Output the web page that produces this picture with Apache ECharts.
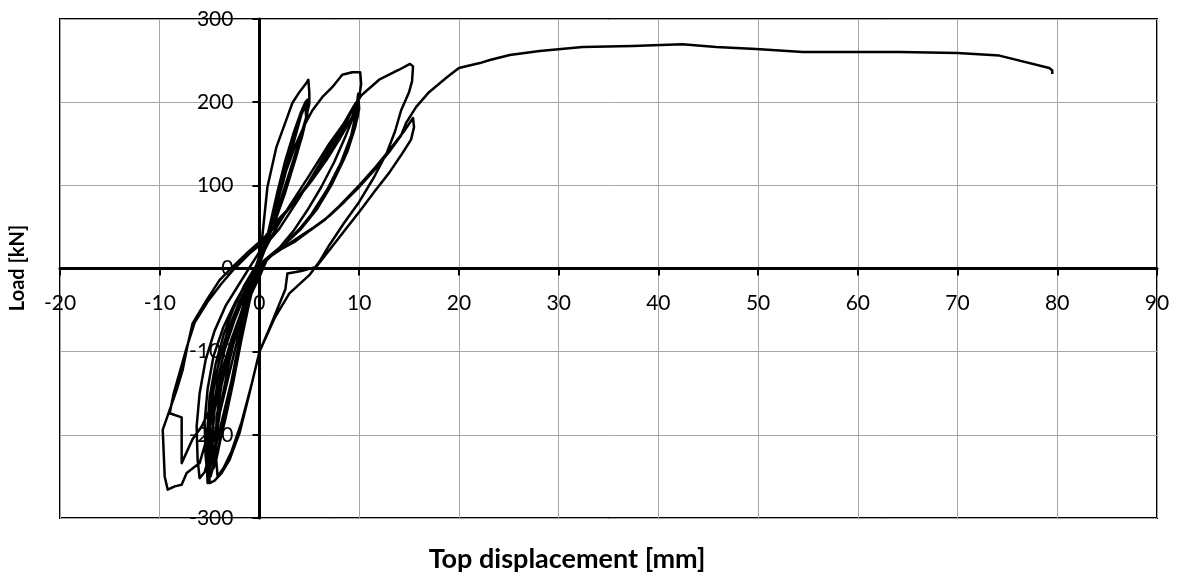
<!DOCTYPE html>
<html><head><meta charset="utf-8">
<script src="https://cdn.jsdelivr.net/npm/echarts@6/dist/echarts.min.js"></script>
<style>html,body{margin:0;padding:0;background:#fff}#c{width:1178px;height:579px}</style>
</head><body><div id="c"></div>
<script>
// Axis settings (tick values)
const xMin = -20, xMax = 90, xStep = 10;
const yMin = -300, yMax = 300, yStep = 100;
const xTitle = 'Top displacement [mm]';
const yTitle = 'Load [kN]';

// Hysteresis record: [top displacement mm, load kN]
const cycle1 = [[0,0],[0.3,40],[0.8,98],[1.7,146],[2.7,179],[3.3,199],[4.0,212],[4.7,223],[4.9,227],[5.0,212],[5.0,198],[4.6,178],[3.9,150],[3.0,115],[2.0,78],[1.0,45],[0.2,22],[-0.4,-5],[-1.0,-40],[-1.8,-85],[-2.6,-135],[-3.4,-180],[-4.2,-220],[-4.8,-245],[-5.2,-258],[-5.3,-230],[-5.2,-190],[-5.0,-155],[-4.4,-115],[-3.6,-80],[-2.6,-48],[-1.5,-20],[-0.5,0]];
const cycle2 = [[0.3,15],[1.0,50],[1.8,92],[2.6,130],[3.4,162],[4.1,186],[4.6,200],[4.8,203],[4.8,185],[4.4,165],[3.7,135],[2.8,100],[1.8,65],[0.8,35],[0,12],[-0.6,-15],[-1.3,-55],[-2.1,-100],[-2.9,-150],[-3.7,-195],[-4.4,-228],[-4.9,-250],[-5.0,-222],[-4.9,-180],[-4.6,-145],[-4.0,-108],[-3.1,-72],[-2.0,-40],[-1.0,-15],[0,5]];
const cycle3 = [[0.6,25],[1.4,62],[2.3,105],[3.1,140],[3.8,170],[4.3,190],[4.6,198],[4.7,182],[4.3,160],[3.5,128],[2.6,92],[1.6,58],[0.6,28],[-0.2,5],[-0.9,-25],[-1.6,-65],[-2.4,-110],[-3.2,-160],[-3.9,-205],[-4.3,-228],[-4.6,-240],[-4.7,-212],[-4.6,-172],[-4.2,-135],[-3.5,-98],[-2.5,-62],[-1.4,-30],[-0.4,-5]];
const cycle3b = [[0,10],[1.2,55],[2.4,105],[3.4,150],[4.2,185],[4.6,196],[4.7,180],[4.0,150],[3.0,112],[2.0,75],[1.0,40],[0,15],[-1.0,-20],[-2.0,-60],[-3.0,-110],[-3.8,-160],[-4.3,-200],[-4.7,-235],[-4.8,-215],[-4.5,-170],[-3.8,-125],[-2.8,-85],[-1.6,-45],[-0.5,-12]];
const cycle4 = [[0,5],[0.7,35],[1.6,75],[2.6,115],[3.6,148],[4.5,172],[5.3,190],[6.3,206],[7.3,218],[8.3,233],[9.3,236],[10.1,236],[10.2,222],[10.0,206],[9.5,185],[8.6,158],[7.5,128],[6.2,98],[4.8,70],[3.4,45],[2.0,25],[0.5,10],[-0.2,-5],[-1.0,-38],[-2.5,-86],[-3.6,-130],[-4.5,-170],[-5.3,-205],[-6.0,-234],[-7.3,-246],[-7.8,-260],[-8.5,-262],[-9.2,-266],[-9.5,-250],[-9.7,-194],[-9.0,-170],[-8.3,-146],[-7.7,-122],[-7.2,-92],[-6.7,-66],[-5.3,-38],[-4.0,-14],[-2.7,2],[-1.3,18],[0,32]];
const cycle5 = [[0.3,34],[1.8,58],[3.7,82],[5.2,105],[6.7,130],[8.0,155],[9.3,182],[9.8,200],[9.9,210],[10.0,192],[9.6,170],[8.8,140],[7.6,110],[6.2,80],[4.6,55],[3.0,35],[1.5,20],[0,5],[-1.0,-25],[-2.2,-70],[-3.4,-115],[-4.6,-160],[-5.8,-190],[-6.7,-205],[-7.8,-234],[-7.8,-179],[-9.0,-174],[-8.6,-150],[-8.0,-125],[-7.3,-95],[-6.5,-65],[-5.2,-40],[-3.8,-18],[-2.5,0],[-1.0,18],[0,28]];
const cycle6 = [[1.5,50],[3.5,80],[5.5,112],[7.3,145],[8.7,175],[9.6,198],[9.8,201],[9.9,185],[9.4,162],[8.5,132],[7.2,100],[5.8,72],[4.2,48],[2.6,30],[1.0,14],[0,0],[-1.0,-30],[-2.0,-75],[-3.0,-125],[-4.0,-175],[-4.8,-215],[-5.5,-245],[-6.0,-252],[-6.2,-230],[-6.3,-190],[-6.0,-150],[-5.4,-110],[-4.5,-75],[-3.4,-45],[-2.0,-18],[-0.8,5],[0,20]];
const cycle6b = [[2.0,48],[4.0,85],[6.0,125],[8.0,165],[9.5,196],[9.7,188],[9.2,160],[8.2,128],[6.8,95],[5.2,65],[3.5,40],[1.8,22],[0.3,5],[-0.8,-30],[-1.8,-80],[-2.8,-135],[-3.8,-185],[-4.6,-225],[-5.2,-250],[-5.4,-225],[-5.5,-185],[-5.2,-145],[-4.6,-105],[-3.6,-70],[-2.4,-40],[-1.2,-15],[0,10]];
const cycle7 = [[1.5,45],[3.0,75],[5.0,112],[7.0,150],[8.8,180],[10.2,208],[12.0,227],[14.0,239],[15.1,246],[15.4,243],[15.3,225],[15.0,212],[14.2,190],[13.6,165],[12.8,140],[11.5,110],[10.0,80],[8.5,55],[7.0,28],[6.0,8],[5.0,-8],[3.0,-30],[1.5,-60],[0,-100],[-1.0,-150],[-2.0,-198],[-3.0,-230],[-3.8,-246],[-4.5,-255],[-5.0,-258],[-5.1,-220],[-5.0,-180],[-4.6,-140],[-3.8,-100],[-2.8,-65],[-1.6,-35],[-0.5,-10],[0.5,10]];
const cycle8 = [[2.0,22],[3.5,32],[5.0,45],[6.5,58],[8.0,75],[10.0,100],[11.5,120],[13.0,142],[14.5,165],[15.4,181],[15.5,170],[15.2,155],[14.3,138],[13.0,115],[11.5,92],[10.0,68],[8.5,45],[7.0,22],[5.7,2],[4.2,-3],[2.8,-6],[2.6,-25],[1.0,-72],[0,-100],[-0.8,-140],[-1.8,-185],[-2.8,-220],[-3.6,-240],[-4.2,-250],[-4.4,-220],[-4.3,-180],[-3.8,-140],[-3.0,-100],[-2.0,-65],[-1.0,-35],[0,-10],[0.8,12]];
const cycle9 = [[2.5,26],[4.0,38],[5.5,50],[7.0,63],[8.5,80],[10.0,98],[11.5,118],[13.0,140],[14.2,160],[14.7,175]];
const pushover = [[15.7,194],[17.0,212],[18.8,230],[20.0,241],[22.1,247],[23.1,250.7],[25.1,256.7],[28.1,261.5],[32.4,266.3],[37.4,267.5],[42.4,269.5],[45.8,266.3],[49.8,263.9],[54.5,260.3],[64.2,260.3],[70.0,259],[74.2,256],[79.2,241],[79.5,238],[79.5,234]];

const record = [].concat(cycle1, cycle2, cycle3, cycle3b, cycle4, cycle5, cycle6, cycle6b, cycle7, cycle8, cycle9, pushover);

const FONT = 'Lato, "Open Sans", sans-serif';
const chart = echarts.init(document.getElementById('c'), null, {renderer: 'canvas'});
const axisCommon = {
  axisLine: {onZero: false, lineStyle: {color: '#000', width: 3}},
  axisTick: {show: true, length: 7, lineStyle: {color: '#000', width: 2}},
  splitLine: {show: true, lineStyle: {color: '#a6a6a6', width: 1}}
};
chart.setOption({
  animation: false,
  backgroundColor: '#fff',
  grid: {left: 60, right: 21, top: 19, bottom: 61, show: true, borderColor: '#000', borderWidth: 2, containLabel: false, outerBoundsMode: 'none'},
  xAxis: Object.assign({
    type: 'value', min: xMin, max: xMax, interval: xStep, position: 'bottom',
    axisLabel: {color: '#000', fontSize: 21, fontFamily: FONT, margin: 24}
  }, axisCommon),
  yAxis: Object.assign({
    type: 'value', min: yMin, max: yMax, interval: yStep, position: 'left',
    axisLabel: {color: '#000', fontSize: 21, fontFamily: FONT, margin: 26}
  }, axisCommon),
  graphic: [
    {type: 'text', x: 567, y: 546, style: {text: xTitle, font: 'bold 27px ' + FONT, fill: '#000', align: 'center'}},
    {type: 'text', x: 8, y: 268, rotation: Math.PI / 2, style: {text: yTitle, font: 'bold 20px ' + FONT, fill: '#000', align: 'center', verticalAlign: 'top'}}
  ],
  series: [{
    type: 'line', data: record, showSymbol: false, smooth: false,
    lineStyle: {color: '#000', width: 2.5, join: 'round'}, z: 3
  }]
});
// Move both axes (line, ticks, labels) to cross at zero, as in the reference
const gridLeft = chart.convertToPixel({xAxisIndex: 0}, xMin);
const gridBottom = chart.convertToPixel({yAxisIndex: 0}, yMin);
const zeroX = chart.convertToPixel({xAxisIndex: 0}, 0);
const zeroY = chart.convertToPixel({yAxisIndex: 0}, 0);
chart.setOption({
  xAxis: {offset: -(gridBottom - zeroY)},
  yAxis: {offset: -(zeroX - gridLeft)}
});
</script></body></html>
